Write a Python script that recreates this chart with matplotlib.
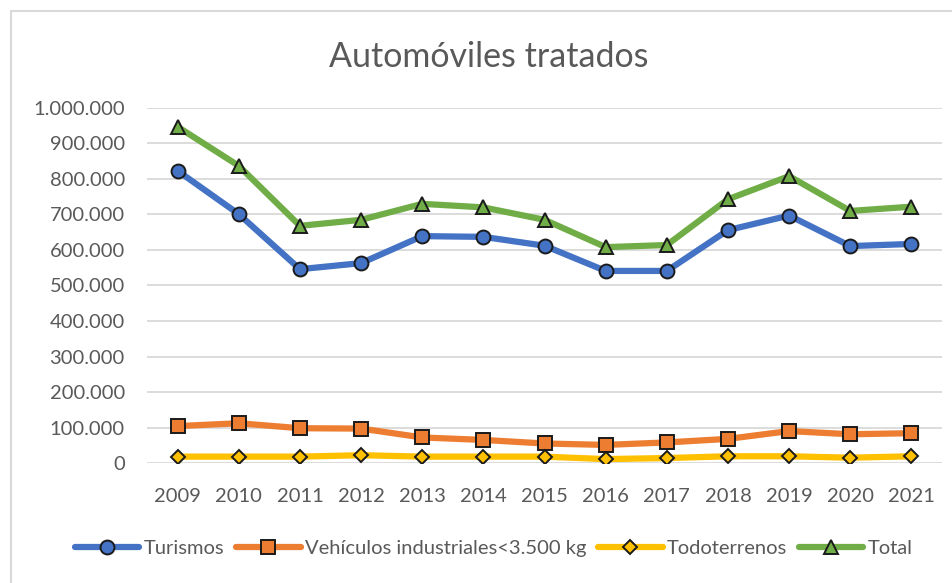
import matplotlib.pyplot as plt
from matplotlib.patches import Rectangle
from matplotlib.ticker import FuncFormatter

years = ["2009", "2010", "2011", "2012", "2013", "2014", "2015",
         "2016", "2017", "2018", "2019", "2020", "2021"]
turismos = [823000, 701000, 546000, 563000, 639000, 637000, 612000,
            541000, 541000, 656000, 697000, 611000, 617000]
vehiculos = [104000, 112000, 98000, 97000, 72000, 65000, 55000,
             51000, 58000, 68000, 90000, 81000, 84000]
todoterrenos = [18000, 18000, 18000, 22000, 18000, 18000, 18000,
                11000, 14000, 19000, 19000, 15000, 19000]
total = [947000, 837000, 668000, 685000, 730000, 720000, 685000,
         608000, 614000, 743000, 808000, 710000, 722000]

series = [
    ("Turismos", turismos, "#4472C4", "o", 10),
    ("Vehículos industriales<3.500 kg", vehiculos, "#ED7D31", "s", 9.5),
    ("Todoterrenos", todoterrenos, "#FFC000", "D", 7.5),
    ("Total", total, "#70AD47", "^", 10),
]

plt.rcParams['font.family'] = ['Lato', 'DejaVu Sans']
text_color = "#595959"

fig = plt.figure(figsize=(9.53, 5.83), dpi=100)
ax = fig.add_axes([0.1543, 0.2058, 0.8342, 0.609])

x = list(range(len(years)))
for name, vals, color, marker, ms in series:
    ax.plot(x, vals, color=color, lw=4.5, marker=marker, ms=ms,
            mfc=color, mec="#1a1a1a", mew=1.4, label=name,
            solid_capstyle="round", solid_joinstyle="round")

ax.set_xlim(-0.5, len(years) - 0.5)
ax.set_ylim(0, 1000000)
ax.set_yticks(range(0, 1000001, 100000))
ax.yaxis.set_major_formatter(FuncFormatter(lambda v, p: f"{int(v):,}".replace(",", ".")))
ax.set_xticks(x)
ax.set_xticklabels(years)
ax.tick_params(axis="both", length=0, labelsize=14.5, colors=text_color)
ax.tick_params(axis="y", pad=16)
ax.tick_params(axis="x", pad=18)
ax.grid(axis="y", color="#d9d9d9", lw=1.3)
ax.set_axisbelow(True)
for s in ax.spines.values():
    s.set_visible(False)

fig.text(0.513, 0.903, "Automóviles tratados", ha="center", va="center",
         fontsize=24.5, color=text_color)

leg = fig.legend(loc="center", bbox_to_anchor=(0.518, 0.06), ncol=4, frameon=False,
                 fontsize=14.5, handlelength=3.2, columnspacing=0.6, handletextpad=0.2,
                 labelcolor=text_color)

fig.patches.append(Rectangle((11 / 953, -0.1), 1.2, 1 - 11 / 583 + 0.1,
                             transform=fig.transFigure, fill=False,
                             ec="#d9d9d9", lw=1.5))

fig.savefig("out.png", dpi=100)
